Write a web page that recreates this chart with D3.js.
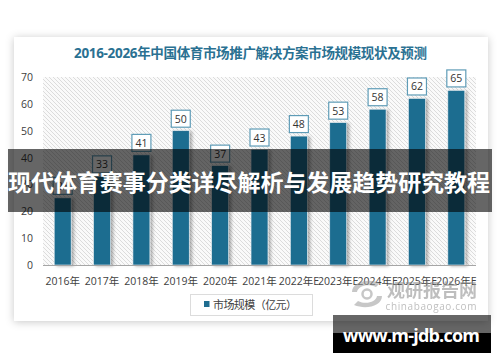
<!DOCTYPE html>
<html lang="zh">
<head>
    <meta charset="UTF-8">
    <script src="https://d3js.org/d3.v7.min.js"></script>
    <title>市场规模</title>
    <style>
        body { margin: 0; background: #fff; }
        svg { display: block; }
        text { font-family: "Open Sans", "Noto Sans CJK SC", sans-serif; }
    </style>
</head>
<body>
    <div id="content">
        <svg width="500" height="362"></svg>
    </div>
    <script>
        var width = 500, height = 362;

        var years = ['2016年', '2017年', '2018年', '2019年', '2020年', '2021年',
                     '2022年E', '2023年E', '2024年E', '2025年E', '2026年E'];
        var values = [25, 33, 41, 50, 37, 43, 48, 53, 58, 62, 65];
        var yTicks = [0, 10, 20, 30, 40, 50, 60, 70];

        var titleText = '2016-2026年中国体育市场推广解决方案市场规模现状及预测';
        var legendText = '市场规模（亿元）';
        var bannerText = '现代体育赛事分类详尽解析与发展趋势研究教程';
        var siteText = 'www.m-jdb.com';

        var barColor = '#1f6d90';

        var svg = d3.select('svg');
        var defs = svg.append('defs');

        // card shadow
        var f = defs.append('filter').attr('id', 'cardShadow')
            .attr('x', '-10%').attr('y', '-10%').attr('width', '120%').attr('height', '120%');
        f.append('feDropShadow').attr('dx', 0).attr('dy', 1).attr('stdDeviation', 4)
            .attr('flood-color', '#000').attr('flood-opacity', 0.22);

        // bar shadow
        var fb = defs.append('filter').attr('id', 'barShadow')
            .attr('x', '-30%').attr('y', '-10%').attr('width', '180%').attr('height', '130%');
        fb.append('feDropShadow').attr('dx', 2.5).attr('dy', 1).attr('stdDeviation', 1.5)
            .attr('flood-color', '#000').attr('flood-opacity', 0.3);

        // diagonal hatch
        var pat = defs.append('pattern').attr('id', 'hatch')
            .attr('patternUnits', 'userSpaceOnUse').attr('width', 4).attr('height', 4);
        pat.append('rect').attr('width', 4).attr('height', 4).attr('fill', '#fafafa');
        pat.append('path').attr('d', 'M-1,-1 L5,5 M-1,3 L1,5 M3,-1 L5,1')
            .attr('stroke', '#dcdcdc').attr('stroke-width', 1);

        svg.append('rect')
            .attr('x', 14).attr('y', 37).attr('width', 474).attr('height', 284)
            .attr('fill', '#fff').attr('filter', 'url(#cardShadow)');

        svg.append('text')
            .attr('x', 74).attr('y', 58)
            .attr('font-size', 13.5).attr('font-weight', 'bold')
            .attr('fill', '#2a7192')
            .attr('textLength', 353)
            .text(titleText);

        var x = d3.scaleBand().domain(years).range([43, 476]).paddingInner(0.57).paddingOuter(0.285);
        var y = d3.scaleLinear().domain([0, 70]).range([265, 77]);

        svg.append('rect')
            .attr('x', 43).attr('y', 77).attr('width', 433).attr('height', 188)
            .attr('fill', 'url(#hatch)');

        // y axis labels
        svg.append('g').selectAll('text')
            .data(yTicks)
            .join('text')
            .attr('x', 33)
            .attr('y', function(d) { return y(d) + 4; })
            .attr('text-anchor', 'end')
            .attr('font-size', 10.5)
            .attr('fill', '#404040')
            .text(function(d) { return d; });

        // bars
        svg.append('g').selectAll('rect')
            .data(values)
            .join('rect')
            .attr('x', function(d, i) { return x(years[i]); })
            .attr('y', function(d) { return y(d); })
            .attr('width', x.bandwidth())
            .attr('height', function(d) { return y(0) - y(d); })
            .attr('fill', barColor)
            .attr('stroke', '#e8eef2').attr('stroke-width', 0.6)
            .attr('filter', 'url(#barShadow)');

        // x axis line
        svg.append('line')
            .attr('x1', 43).attr('x2', 476).attr('y1', 265.5).attr('y2', 265.5)
            .attr('stroke', '#a6a6a6').attr('stroke-width', 1);

        // x labels
        svg.append('g').selectAll('text')
            .data(years)
            .join('text')
            .attr('x', function(d) { return x(d) + x.bandwidth() / 2; })
            .attr('y', 285)
            .attr('text-anchor', 'middle')
            .attr('font-size', 10.5)
            .attr('fill', '#404040')
            .text(function(d) { return d; });

        // value label boxes
        var lab = svg.append('g').selectAll('g')
            .data(values)
            .join('g')
            .attr('transform', function(d, i) {
                return 'translate(' + (x(years[i]) + x.bandwidth() / 2) + ',' + (y(d) - 12) + ')';
            });
        lab.append('rect')
            .attr('x', -9.5).attr('y', -8.5).attr('width', 19).attr('height', 17)
            .attr('fill', '#fff').attr('stroke', '#5f9cb7').attr('stroke-width', 1.2);
        lab.append('text')
            .attr('text-anchor', 'middle').attr('y', 4)
            .attr('font-size', 10.5).attr('fill', '#333')
            .text(function(d) { return d; });

        // legend
        svg.append('rect')
            .attr('x', 190.5).attr('y', 294.5).attr('width', 122).attr('height', 21)
            .attr('fill', '#fff').attr('stroke', '#dcdcdc');
        svg.append('rect')
            .attr('x', 204).attr('y', 301).attr('width', 5.5).attr('height', 6)
            .attr('fill', barColor);
        svg.append('text')
            .attr('x', 213).attr('y', 309)
            .attr('font-size', 11).attr('fill', '#404040')
            .attr('textLength', 84)
            .text(legendText);

        // watermark
        var wm = svg.append('g').attr('opacity', 0.55);
        wm.append('path')
            .attr('d', 'M352,292 C352,282 368,278 380,283 L376,287 C368,283 358,286 357,292 Z')
            .attr('fill', '#9a9a9a');
        wm.append('path')
            .attr('d', 'M382,296 C382,306 366,310 354,305 L358,301 C366,305 376,302 377,296 Z')
            .attr('fill', '#9a9a9a');
        wm.append('circle').attr('cx', 367).attr('cy', 294).attr('r', 4.5)
            .attr('fill', 'none').attr('stroke', '#9a9a9a').attr('stroke-width', 2.5);
        wm.append('text')
            .attr('x', 432).attr('y', 297)
            .attr('text-anchor', 'middle')
            .attr('font-size', 18).attr('font-weight', 'bold')
            .attr('font-family', 'Noto Sans CJK SC')
            .attr('fill', '#8a8a8a')
            .text('观研报告网');
        wm.append('text')
            .attr('x', 431).attr('y', 310)
            .attr('text-anchor', 'middle')
            .attr('font-size', 10).attr('fill', '#8a8a8a')
            .attr('font-family', 'DejaVu Sans')
            .attr('textLength', 91)
            .text('chinabaogao.com');

        // overlay banner
        svg.append('rect')
            .attr('x', 8).attr('y', 149).attr('width', 484).attr('height', 63)
            .attr('fill', 'rgba(0,0,0,0.6)');
        svg.append('text')
            .attr('x', 249).attr('y', 191)
            .attr('text-anchor', 'middle')
            .attr('font-size', 23).attr('font-weight', 'bold')
            .attr('font-family', 'Noto Sans CJK SC')
            .attr('fill', '#fff')
            .attr('textLength', 482)
            .text(bannerText);

        // site box
        svg.append('rect')
            .attr('x', 333).attr('y', 315).attr('width', 158).attr('height', 18)
            .attr('fill', 'rgba(0,0,0,0.6)');
        svg.append('rect')
            .attr('x', 333).attr('y', 333).attr('width', 158).attr('height', 20)
            .attr('fill', '#000');
        svg.append('text')
            .attr('x', 343).attr('y', 342)
            .attr('font-size', 18).attr('font-weight', 'bold')
            .attr('font-family', 'Liberation Sans')
            .attr('fill', '#fff')
            .attr('textLength', 137)
            .text(siteText);
    </script>
</body>
</html>
